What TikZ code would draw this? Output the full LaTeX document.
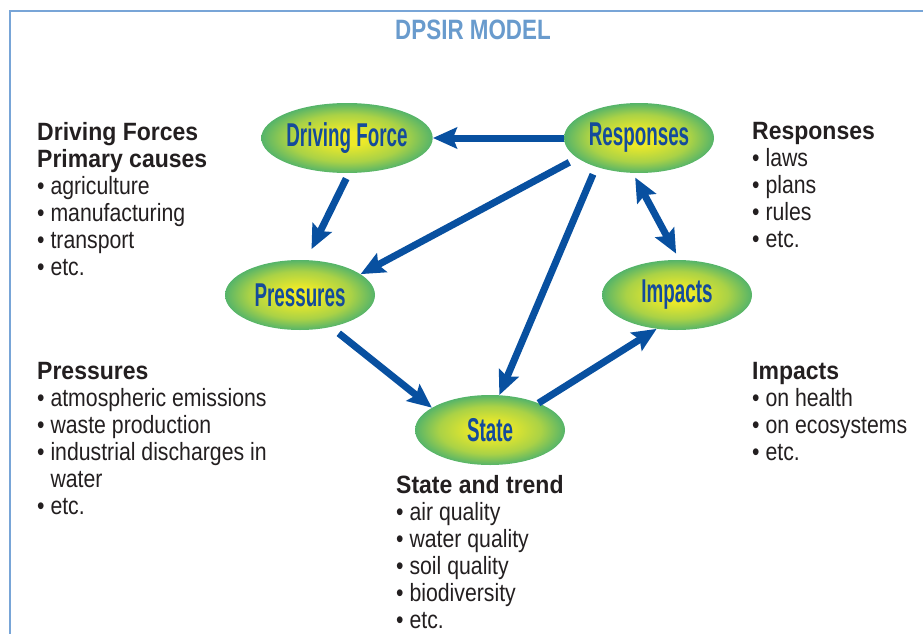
\documentclass[tikz,border=0pt]{standalone}
\usepackage{fontspec}
\usetikzlibrary{shapes.geometric,arrows.meta}
\newfontfamily\bodyfont[FakeStretch=0.85]{Liberation Sans}
\newfontfamily\headfont[FakeStretch=0.92]{Liberation Sans}
\newfontfamily\titlefont[FakeStretch=0.8]{Liberation Sans}
\newfontfamily\ovalfont[FakeStretch=0.57]{Liberation Sans}
\definecolor{framecol}{RGB}{120,165,215}
\definecolor{titlecol}{RGB}{105,155,205}
\definecolor{arrowcol}{RGB}{8,80,160}
\definecolor{ovaltext}{RGB}{20,75,155}
\definecolor{ovalin}{RGB}{238,234,40}
\definecolor{ovalmid}{RGB}{170,210,70}
\definecolor{ovalout}{RGB}{85,180,105}
\definecolor{bodytext}{RGB}{35,31,32}
\pgfdeclareradialshading{ovalshade}{\pgfpoint{0bp}{0bp}}{color(0bp)=(ovalin);
    color(5bp)=(ovalin); color(17bp)=(ovalmid); color(25bp)=(ovalout); color(50bp)=(ovalout)}
\newcommand{\itm}{\textbullet\ }
\tikzset{>={Stealth[length=24pt,width=21pt,inset=4pt]}}
\tikzset{textblock/.style={anchor=north west,align=left,inner sep=0pt,text=bodytext,
    font=\bodyfont\fontsize{25}{27}\selectfont}}

\begin{document}
\begin{tikzpicture}[x=1pt,y=-1pt]
\useasboundingbox (0,0) rectangle (923,634);
\draw[framecol,line width=2.5pt,line join=miter] (10,640) -- (10,11) -- (930,11);
\node[font=\titlefont\bfseries\fontsize{28}{30}\selectfont,text=titlecol] (title) at (473,30) {DPSIR MODEL};

\begin{scope}[every node/.style={ellipse,minimum width=150pt,minimum height=70pt,inner sep=0pt,
    shading=ovalshade,text=ovaltext,
    font=\ovalfont\bfseries\fontsize{33}{33}\selectfont}]
\node (D) at (347,138) {Driving Force};
\node (R) at (639,138) {Responses};
\node (P) at (300,295) {Pressures};
\node (I) at (677,295) {Impacts};
\node (S) at (490,430) {State};
\end{scope}

\begin{scope}[every edge/.style={draw=arrowcol,line width=7pt}]
    \path [->] (R.180) edge (D.0);
    \path [->] (D.273) edge [shorten <=6pt,shorten >=12pt] (P.80);
    \path [->] (R.198) edge [shorten <=9pt] (P.19);
    \path [->] (R.214) edge [shorten <=8pt] (S.75);
    \path [<->] (R.260) edge [shorten <=5pt,shorten >=7pt] (I.86);
    \path [->] (P.314) edge [shorten <=10pt] (S.159);
    \path [->] (S.29) edge (I.239);
\end{scope}

\node[textblock] (dtxt) at (37,122) {{\headfont\bfseries Driving Forces}\\
    {\headfont\bfseries Primary causes}\\
    \itm agriculture\\
    \itm manufacturing\\
    \itm transport\\
    \itm etc.};
\node[textblock] (ptxt) at (37,362) {{\headfont\bfseries Pressures}\\
    \itm atmospheric emissions\\
    \itm waste production\\
    \itm industrial discharges in\\
    \phantom{\itm}water\\
    \itm etc.};
\node[textblock] (stxt) at (396,475) {{\headfont\bfseries State and trend}\\
    \itm air quality\\
    \itm water quality\\
    \itm soil quality\\
    \itm biodiversity\\
    \itm etc.};
\node[textblock] (rtxt) at (752,122) {{\headfont\bfseries Responses}\\
    \itm laws\\
    \itm plans\\
    \itm rules\\
    \itm etc.};
\node[textblock] (itxt) at (752,362) {{\headfont\bfseries Impacts}\\
    \itm on health\\
    \itm on ecosystems\\
    \itm etc.};
\end{tikzpicture}
\end{document}
